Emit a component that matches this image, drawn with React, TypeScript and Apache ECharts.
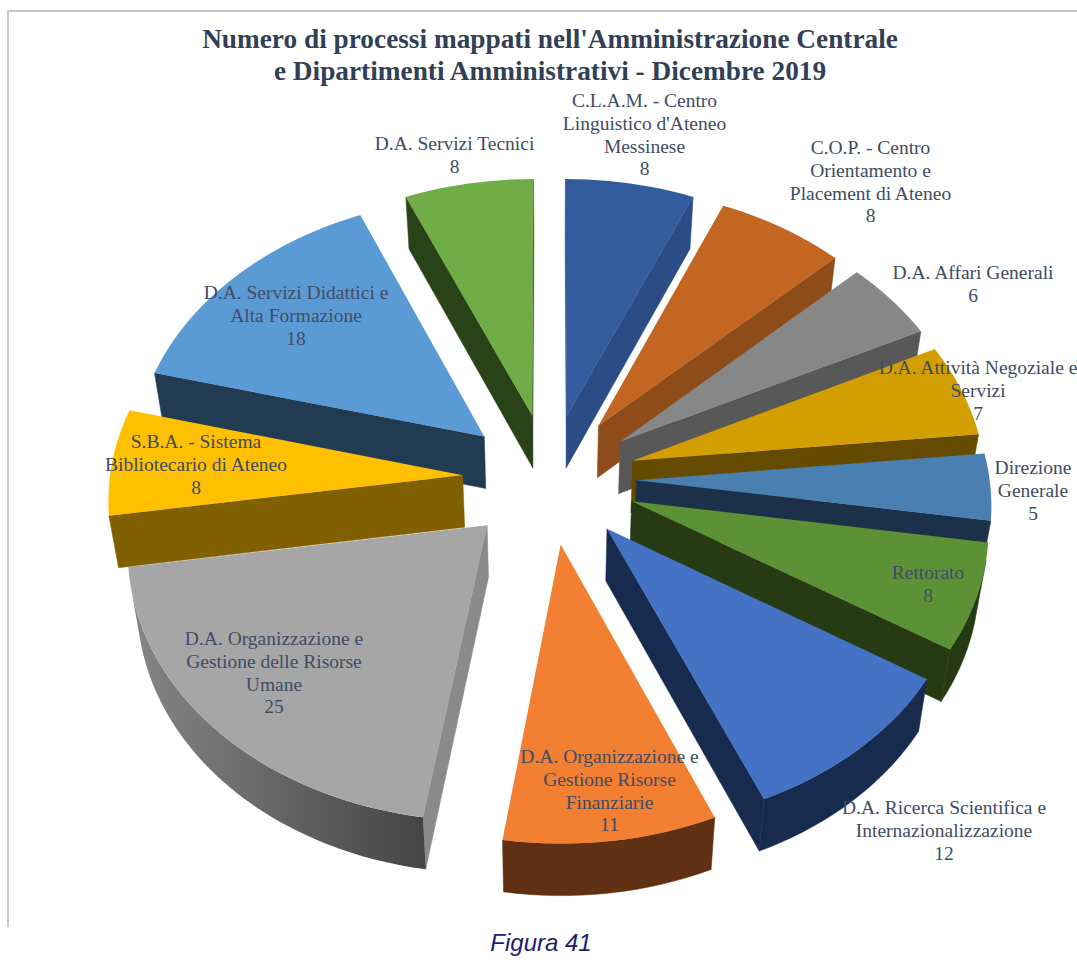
import React, { useEffect, useRef } from "react";
import * as echarts from "echarts";

const TITLE = "Numero di processi mappati nell'Amministrazione Centrale\ne Dipartimenti Amministrativi - Dicembre 2019";
const CAPTION = "Figura 41";

const CATEGORIES = [
  "C.L.A.M. - Centro\nLinguistico d'Ateneo\nMessinese",
  "C.O.P. - Centro\nOrientamento e\nPlacement di Ateneo",
  "D.A. Affari Generali",
  "D.A. Attività Negoziale e\nServizi",
  "Direzione\nGenerale",
  "Rettorato",
  "D.A. Ricerca Scientifica e\nInternazionalizzazione",
  "D.A. Organizzazione e\nGestione Risorse\nFinanziarie",
  "D.A. Organizzazione e\nGestione delle Risorse\nUmane",
  "S.B.A. - Sistema\nBibliotecario di Ateneo",
  "D.A. Servizi Didattici e\nAlta Formazione",
  "D.A. Servizi Tecnici",
];
const VALUES = [8, 8, 6, 7, 5, 8, 12, 11, 25, 8, 18, 8];

// Styles
const TOP_COLORS = ["#335c9f", "#c26622", "#878787", "#d29e00", "#4a7fb2", "#5c9136", "#4472c4", "#f27f32", "#a6a6a6", "#ffc000", "#5b9bd5", "#70ad47"];
const WALL_COLORS = ["#2b4c84", "#8f4c1b", "#585858", "#644b00", "#1c3149", "#263a13", "#172b4f", "#5f3013", "#8a8a8a", "#806000", "#203b52", "#2a4218"];
const GRADIENT_WALL = 8;

// Layout of the data labels: centre x and y of the first line
const LABEL_X = [644.5, 870.5, 973, 978, 1033, 928, 944, 609.5, 274, 196, 296, 454.5];
const LABEL_Y = [101, 148, 273, 368, 468, 573, 808, 757, 639, 442, 293, 144];

// Projection of the 3D pie
const CX = 549.5;
const CY = 478.5;
const RADIUS = 353;
const EXPLODE = 87;
const TILT = 0.75;
const VIEW = 4500;
const DEPTH = 52;
const BOTTOM_X = 0.978;
const STEPS_PER_DEG = 0.5;
const FONT = "Liberation Serif";

const TOTAL = VALUES.reduce((a, b) => a + b, 0);
const rad = (d: number) => (d * Math.PI) / 180;
const starts: number[] = [];
VALUES.reduce((acc, v, i) => {
  starts[i] = (acc / TOTAL) * 360;
  return acc + v;
}, 0);

function project(X: number, Y: number): [number, number] {
  const s = VIEW / (VIEW - Y);
  return [X * s, TILT * Y * s];
}
const topPt = (p: [number, number]): number[] => [CX + p[0], CY + p[1]];
const botPt = (p: [number, number]): number[] => [CX + p[0] * BOTTOM_X, CY + p[1] + DEPTH];

function area(pts: number[][]) {
  let a = 0;
  for (let i = 0; i < pts.length; i++) {
    const p = pts[i];
    const q = pts[(i + 1) % pts.length];
    a += p[0] * q[1] - q[0] * p[1];
  }
  return a;
}

function sliceGeometry(i: number) {
  const a0 = starts[i];
  const a1 = a0 + (VALUES[i] / TOTAL) * 360;
  const mid = rad((a0 + a1) / 2);
  const ox = EXPLODE * Math.sin(mid);
  const oy = -EXPLODE * Math.cos(mid);
  const n = Math.max(4, Math.ceil((a1 - a0) * STEPS_PER_DEG));
  const arc: [number, number][] = [];
  for (let k = 0; k <= n; k++) {
    const t = rad(a0 + ((a1 - a0) * k) / n);
    arc.push(project(ox + RADIUS * Math.sin(t), oy - RADIUS * Math.cos(t)));
  }
  return { apex: project(ox, oy), arc, midY: oy };
}

// back to front
const drawOrder = VALUES.map((_, i) => i).sort((a, b) => sliceGeometry(a).midY - sliceGeometry(b).midY);

function renderSlice(params: any, api: any) {
  const i = api.value(1) as number;
  const { apex, arc } = sliceGeometry(i);
  const children: any[] = [];
  const wall = WALL_COLORS[i];

  const addQuad = (p: [number, number], q: [number, number]) => {
    const pts = [topPt(p), topPt(q), botPt(q), botPt(p)];
    if (area(pts) < 0) {
      children.push({ type: "polygon", shape: { points: pts }, style: { fill: wall, stroke: wall, lineWidth: 0.5 } });
    }
  };
  addQuad(apex, arc[0]);
  addQuad(arc[arc.length - 1], apex);

  // outer wall: only the part of the arc facing the viewer
  const vis: [number, number][] = [];
  for (let k = 0; k < arc.length - 1; k++) {
    const pts = [topPt(arc[k]), topPt(arc[k + 1]), botPt(arc[k + 1]), botPt(arc[k])];
    if (area(pts) < 0) {
      if (!vis.length) vis.push(arc[k]);
      vis.push(arc[k + 1]);
    }
  }
  if (vis.length > 1) {
    const pts = [...vis.map(topPt), ...vis.slice().reverse().map(botPt)];
    const fill =
      i === GRADIENT_WALL
        ? new echarts.graphic.LinearGradient(0, 0, 1, 0, [
            { offset: 0, color: "#868686" },
            { offset: 1, color: "#444444" },
          ])
        : wall;
    children.push({ type: "polygon", shape: { points: pts }, style: { fill, stroke: i === GRADIENT_WALL ? "none" : wall, lineWidth: 0.5 } });
  }

  const top = [topPt(apex), ...arc.map(topPt)];
  children.push({ type: "polygon", shape: { points: top }, style: { fill: TOP_COLORS[i] } });
  return { type: "group", children };
}

function renderLabel(params: any, api: any) {
  const i = api.value(1) as number;
  const value = api.value(0);
  return {
    type: "text",
    x: LABEL_X[i],
    y: LABEL_Y[i] - 11.3,
    style: {
      text: `${CATEGORIES[i]}\n${value}`,
      fill: "#414c63",
      font: `19.5px "${FONT}", serif`,
      align: "center",
      verticalAlign: "top",
      lineHeight: 22.6,
    },
  };
}

export default function App() {
  const ref = useRef<HTMLDivElement>(null);
  useEffect(() => {
    document.body.style.margin = "0";
    const chart = echarts.init(ref.current!, undefined, { renderer: "svg" });
    const data = drawOrder.map((i) => [VALUES[i], i]);
    chart.setOption({
      animation: false,
      backgroundColor: "#ffffff",
      title: {
        text: TITLE,
        left: 545,
        top: 18,
        textAlign: "center",
        textStyle: { fontFamily: FONT, fontWeight: "bold", fontSize: 27.3, lineHeight: 32, color: "#323f55" },
      },
      graphic: [
        {
          type: "polyline",
          shape: { points: [[8, 927], [8, 11], [1077, 11]] },
          style: { stroke: "#c9c9c9", lineWidth: 2, fill: "none" },
        },
        {
          type: "text",
          x: 541,
          y: 942,
          style: {
            text: CAPTION,
            fill: "#20206e",
            font: 'italic 24px "Liberation Sans", sans-serif',
            align: "center",
            verticalAlign: "middle",
          },
        },
      ],
      series: [
        { type: "custom", coordinateSystem: "none", silent: true, renderItem: renderSlice, data, z: 2 },
        { type: "custom", coordinateSystem: "none", silent: true, renderItem: renderLabel, data, z: 3 },
      ],
    });
    return () => chart.dispose();
  }, []);
  return <div ref={ref} style={{ width: 1077, height: 980 }} />;
}
